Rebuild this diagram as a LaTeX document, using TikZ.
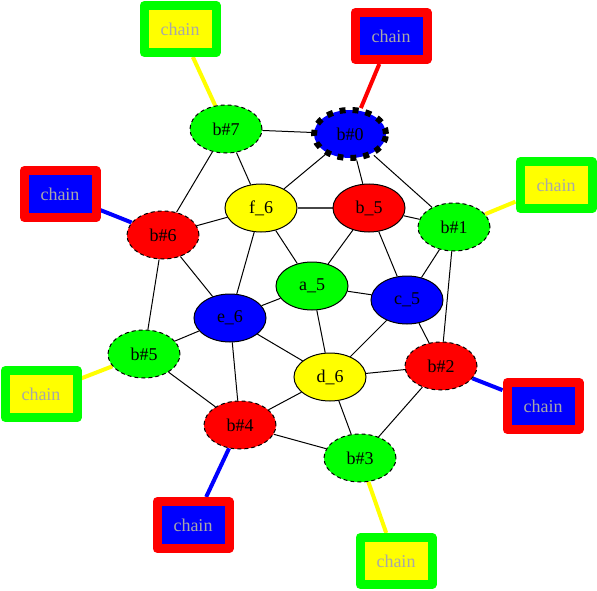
\documentclass[tikz,border=0pt]{standalone}
\usepackage{fontspec}
\setmainfont{Liberation Serif}
\usetikzlibrary{shapes.geometric,backgrounds}
\definecolor{cgreen}{rgb}{0,1,0}
\definecolor{cyellow}{rgb}{1,1,0}
\definecolor{cred}{rgb}{1,0,0}
\definecolor{cblue}{rgb}{0,0,1}
\definecolor{ctext}{RGB}{168,168,168}
\definecolor{cdark}{RGB}{70,70,70}
\tikzset{
  nd/.style={ellipse, draw=black, line width=1pt, minimum width=72pt, minimum height=48pt, inner sep=0pt, font=\fontsize{18}{20}\selectfont, text=black},
  bnd/.style={nd, dash pattern=on 4pt off 3pt},
  chainG/.style={rectangle, draw=cgreen, fill=cyellow, line width=9pt, line join=round, minimum width=72pt, minimum height=47pt, inner sep=0pt, text=ctext, font=\fontsize{18}{20}\selectfont},
  chainR/.style={chainG, draw=cred, fill=cblue},
  edg/.style={black, line width=1pt},
  cedge/.style={line width=4pt}
}
\begin{document}
\begin{tikzpicture}[x=1pt,y=-1pt]
\useasboundingbox (0,0) rectangle (597,591);
% main nodes
\node[nd, fill=cblue, line width=6pt, dash pattern=on 6pt off 7pt] (b0) at (350,134) {b\#0};
\node[bnd, fill=cgreen] (b7) at (226,129) {b\#7};
\node[nd, fill=cyellow] (f6) at (261,208) {f\_6};
\node[nd, fill=cred] (b5) at (369,208) {b\_5};
\node[bnd, fill=cgreen] (b1) at (454,227) {b\#1};
\node[bnd, fill=cred] (b6) at (163,235) {b\#6};
\node[nd, fill=cgreen] (a5) at (312,286) {a\_5};
\node[nd, fill=cblue] (c5) at (407,300) {c\_5};
\node[nd, fill=cblue] (e6) at (230,318) {e\_6};
\node[bnd, fill=cgreen] (bb5) at (144,354) {b\#5};
\node[nd, fill=cyellow] (d6) at (330,377) {d\_6};
\node[bnd, fill=cred] (b2) at (441,366) {b\#2};
\node[bnd, fill=cred] (b4) at (240,425) {b\#4};
\node[bnd, fill=cgreen] (b3) at (360,458) {b\#3};
% chain boxes
\node[chainR] (c0) at (391,36) {chain};
\node[chainG] (c7) at (180,29) {chain};
\node[chainG] (c1) at (556,185) {chain};
\node[chainR] (c6) at (60,194) {chain};
\node[chainG] (c5b) at (41,394) {chain};
\node[chainR] (c2) at (543,406) {chain};
\node[chainR] (c4) at (193,525) {chain};
\node[chainG] (c3) at (396,561) {chain};
\begin{pgfonlayer}{background}
\draw[edg] (b7) -- (b0);
\draw[edg] (b7) -- (f6);
\draw[edg] (b7) -- (b6);
\draw[edg] (b0) -- (f6);
\draw[edg] (b0) -- (b5);
\draw[edg] (b0) -- (b1);
\draw[cdark, line width=1.8pt] (f6) -- (b5);
\draw[edg] (f6) -- (b6);
\draw[edg] (f6) -- (a5);
\draw[edg] (f6) -- (e6);
\draw[edg] (b5) -- (a5);
\draw[edg] (b5) -- (c5);
\draw[edg] (b5) -- (b1);
\draw[edg] (b1) -- (c5);
\draw[edg] (b1) -- (b2);
\draw[edg] (b6) -- (e6);
\draw[edg] (b6) -- (bb5);
\draw[edg] (a5) -- (e6);
\draw[edg] (a5) -- (c5);
\draw[edg] (a5) -- (d6);
\draw[edg] (c5) -- (d6);
\draw[edg] (c5) -- (b2);
\draw[edg] (e6) -- (d6);
\draw[edg] (e6) -- (b4);
\draw[edg] (e6) -- (bb5);
\draw[edg] (bb5) -- (b4);
\draw[edg] (d6) -- (b2);
\draw[edg] (d6) -- (b4);
\draw[edg] (d6) -- (b3);
\draw[edg] (b4) -- (b3);
\draw[edg] (b2) -- (b3);
% chain edges
\draw[cedge, cred] (b0) -- (c0);
\draw[cedge, cyellow] (b7) -- (c7);
\draw[cedge, cyellow] (b1) -- (c1);
\draw[cedge, cblue] (b6) -- (c6);
\draw[cedge, cyellow] (bb5) -- (c5b);
\draw[cedge, cblue] (b2) -- (c2);
\draw[cedge, cblue] (b4) -- (c4);
\draw[cedge, cyellow] (b3) -- (c3);
\end{pgfonlayer}
\end{tikzpicture}
\end{document}
